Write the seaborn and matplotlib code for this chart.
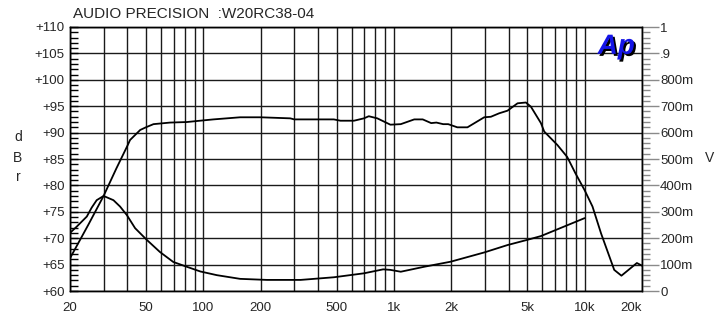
import numpy as np
import pandas as pd
import matplotlib
matplotlib.use("Agg")
import matplotlib.pyplot as plt
import matplotlib.ticker as mticker
import matplotlib.patheffects as pe
import seaborn as sns

# frequency response (dBr, left axis)
fr_freq = [20, 25, 30, 35, 40, 41.3, 46.7, 50, 54.8, 67, 82, 96, 113, 156, 200,
           286, 300, 484, 524, 617, 696, 738, 818, 958, 1086, 1278, 1416, 1568,
           1670, 1812, 1926, 2150, 2430, 2974, 3224, 3560, 3940, 4450, 4920,
           5230, 5900, 6140, 7200, 8100, 8950, 10000, 11000, 12200, 14300,
           15600, 18800, 20000]
fr_db = [66.2, 72.6, 78.0, 83.2, 87.5, 88.6, 90.5, 91.0, 91.6, 91.9, 92.0, 92.25,
         92.5, 92.9, 92.9, 92.7, 92.5, 92.5, 92.25, 92.25, 92.7, 93.1, 92.7, 91.5,
         91.6, 92.5, 92.5, 91.8, 91.9, 91.6, 91.6, 91.0, 91.0, 92.9, 93.0, 93.65,
         94.15, 95.55, 95.7, 94.9, 91.8, 90.2, 87.65, 85.4, 82.3, 79.1, 76.0,
         70.9, 64.0, 62.9, 65.3, 64.8]

# impedance curve (V, right axis)
imp_freq = [20, 21.7, 24.5, 26, 27.6, 30, 33.8, 36.6, 39.7, 43.9, 50.5, 59.2,
            69.6, 81.8, 96.5, 117.8, 156, 216, 324, 484, 696, 878, 958, 1086,
            1445, 1984, 2974, 3940, 5020, 5900, 10000]
imp_v = [0.220, 0.244, 0.282, 0.316, 0.344, 0.360, 0.344, 0.320, 0.288, 0.238,
         0.194, 0.148, 0.110, 0.092, 0.074, 0.060, 0.046, 0.042, 0.042, 0.052,
         0.067, 0.082, 0.080, 0.073, 0.092, 0.111, 0.146, 0.174, 0.194, 0.208,
         0.276]

x_ticks = [20, 50, 100, 200, 500, 1000, 2000, 5000, 10000, 20000]
x_labels = ["20", "50", "100", "200", "500", "1k", "2k", "5k", "10k", "20k"]
x_grid = ([20, 30, 40, 50, 60, 70, 80, 90] + [100 * i for i in range(1, 10)]
          + [1000 * i for i in range(1, 11)] + [20000])
db_ticks = list(range(60, 111, 5))
db_labels = ["+%d" % v for v in db_ticks]
v_ticks = [0, 0.1, 0.2, 0.3, 0.4, 0.5, 0.6, 0.7, 0.8, 0.9, 1.0]
v_labels = ["0", "100m", "200m", "300m", "400m", "500m", "600m", "700m", "800m", ".9", "1"]

sns.set_style("white")
plt.rcParams["font.family"] = ["Liberation Sans", "DejaVu Sans"]

fig = plt.figure(figsize=(7.26, 3.19), dpi=100)
ax = fig.add_axes([70 / 726, 1 - 291 / 319, 572 / 726, 264 / 319])
ax.set_xscale("log")
ax.set_xlim(20, 20000)
ax.set_ylim(60, 110)

fr = pd.DataFrame({"freq": fr_freq, "db": fr_db})
sns.lineplot(data=fr, x="freq", y="db", ax=ax, color="black", linewidth=1.3)

# grid
ax.xaxis.set_major_locator(mticker.FixedLocator(x_ticks))
ax.xaxis.set_major_formatter(mticker.FixedFormatter(x_labels))
ax.xaxis.set_minor_locator(mticker.FixedLocator(x_grid))
ax.xaxis.set_minor_formatter(mticker.NullFormatter())
ax.set_yticks(db_ticks)
ax.set_yticklabels(db_labels)
ax.yaxis.set_minor_locator(mticker.MultipleLocator(1))
ax.grid(axis="x", which="both", color="#1a1a1a", linewidth=1.0)
ax.grid(axis="y", which="major", color="#1a1a1a", linewidth=1.0)
ax.tick_params(axis="x", which="both", length=0, pad=8, labelsize=9.5)
ax.tick_params(axis="y", which="both", direction="in", length=6, width=1,
               color="black", pad=4, labelsize=9.5, left=True)
ax.set_xlabel("")
ax.set_ylabel("")
for s in ax.spines.values():
    s.set_color("black")
    s.set_linewidth(1.0)

# right axis (V)
ax2 = ax.twinx()
imp = pd.DataFrame({"freq": imp_freq, "v": imp_v})
sns.lineplot(data=imp, x="freq", y="v", ax=ax2, color="black", linewidth=1.3)
ax2.set_ylim(0, 1)
ax2.set_yticks(v_ticks)
ax2.set_yticklabels(v_labels)
ax2.yaxis.set_minor_locator(mticker.MultipleLocator(0.02))
ax2.tick_params(axis="y", which="major", direction="out", length=12, width=1,
                color="#8a8a8a", pad=1, labelsize=9.5, right=True)
ax2.tick_params(axis="y", which="minor", direction="out", length=6, width=1,
                color="#8a8a8a", right=True)
ax2.set_ylabel("")
ax2.set_xlabel("")
for s in ax2.spines.values():
    s.set_color("black")
    s.set_linewidth(1.0)

# last x label sits left of its tick
for lbl in ax.get_xticklabels():
    if lbl.get_text() == "20k":
        lbl.set_horizontalalignment("right")

# texts
fig.text(73 / 726, 1 - 18.5 / 319, "AUDIO PRECISION  :W20RC38-04",
         fontsize=11, ha="left", va="baseline")
for ch, yy in zip(["d", "B", "r"], [137, 158, 177]):
    fig.text(18 / 726, 1 - yy / 319, ch, fontsize=10, ha="center", va="center")
fig.text(710 / 726, 1 - 158 / 319, "V", fontsize=10, ha="center", va="center")

ax2.text(0.955, 0.925, "Ap", transform=ax2.transAxes, fontsize=20,
         fontweight="bold", fontstyle="italic", color="#1414e6",
         ha="center", va="center",
         path_effects=[pe.withSimplePatchShadow(offset=(1.5, -1.5),
                                                shadow_rgbFace="black", alpha=1)])

fig.savefig("out.png", dpi=100)
